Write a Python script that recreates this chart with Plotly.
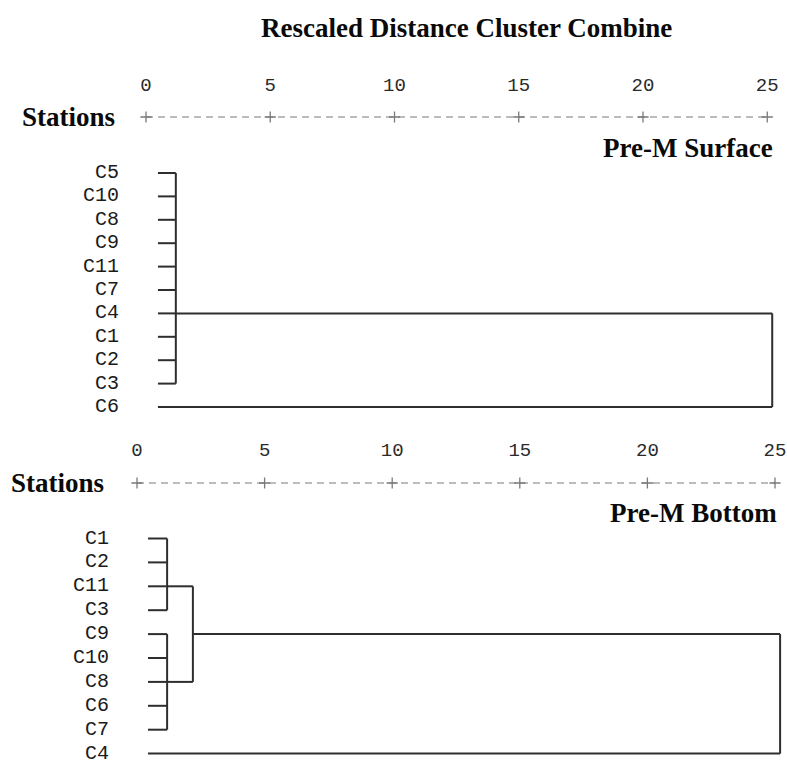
import plotly.graph_objects as go

# ---------------- data ----------------
tick_values = [0, 5, 10, 15, 20, 25]

top_leaves = ["C5", "C10", "C8", "C9", "C11", "C7", "C4", "C1", "C2", "C3", "C6"]
top_leaf_start = 0.48
# (name, children (leaf index or cluster name), rescaled distance, junction row)
top_clusters = [
    ("A", [0, 1, 2, 3, 4, 5, 6, 7, 8, 9], 1.2, 6),
    ("root", ["A", 10], 25.2, None),
]

bot_leaves = ["C1", "C2", "C11", "C3", "C9", "C10", "C8", "C6", "C7", "C4"]
bot_leaf_start = 0.43
bot_clusters = [
    ("A", [0, 1, 2, 3], 1.18, 2),
    ("B", [4, 5, 6, 7, 8], 1.18, 6),
    ("AB", ["A", "B"], 2.19, 4),
    ("root", ["AB", 9], 25.2, None),
]

LINE = "#2e2e2e"
AXC = "#7a7a7a"
MONO = "Liberation Mono"
SERIF = "Liberation Serif"


def dendro_xy(leaves, clusters, leaf_start):
    info = {}
    xs, ys = [], []
    for name, kids, h, jrow in clusters:
        rows = []
        for k in kids:
            if isinstance(k, str):
                r, x0 = info[k]
            else:
                r, x0 = k, leaf_start
            rows.append(r)
            xs += [x0, h, None]
            ys += [r, r, None]
        xs += [h, h, None]
        ys += [min(rows), max(rows), None]
        info[name] = (jrow, h)
    return xs, ys


fig = go.Figure()


def add_panel(leaves, clusters, leaf_start, xa, ya, axis_row, tick_row, label_x):
    xs, ys = dendro_xy(leaves, clusters, leaf_start)
    fig.add_trace(go.Scatter(x=xs, y=ys, mode="lines", xaxis=xa, yaxis=ya,
                             line=dict(color=LINE, width=2), hoverinfo="skip",
                             showlegend=False))
    # station labels
    fig.add_trace(go.Scatter(x=[label_x] * len(leaves), y=list(range(len(leaves))),
                             mode="text", text=leaves, textposition="middle left",
                             textfont=dict(family=MONO, size=20, color="#1a1a1a"),
                             xaxis=xa, yaxis=ya, hoverinfo="skip", showlegend=False))
    # dashed scale axis
    fig.add_trace(go.Scatter(x=[tick_values[0], tick_values[-1]], y=[axis_row, axis_row],
                             mode="lines", line=dict(color=AXC, width=1.2, dash="7px,5px"),
                             xaxis=xa, yaxis=ya, hoverinfo="skip", showlegend=False))
    fig.add_trace(go.Scatter(x=tick_values, y=[axis_row] * len(tick_values),
                             mode="markers",
                             marker=dict(symbol="cross-thin", size=8,
                                         line=dict(color=AXC, width=1.3)),
                             xaxis=xa, yaxis=ya, hoverinfo="skip", showlegend=False))
    fig.add_trace(go.Scatter(x=tick_values, y=[tick_row] * len(tick_values),
                             mode="text", text=[str(t) for t in tick_values],
                             textposition="middle center",
                             textfont=dict(family=MONO, size=19, color="#2a2a2a"),
                             xaxis=xa, yaxis=ya, hoverinfo="skip", showlegend=False))


W, H = 787, 763
# top panel: pixel x = 146 + 24.85*v ; pixel y = 173 + 23.4*r
tx0, tsx = 146.0, 24.85
ty0, tsy = 173.0, 23.4
split = 430.0
# bottom panel: pixel x = 137 + 25.52*v ; pixel y = 539 + 23.9*r
bx0, bsx = 137.0, 25.52
by0, bsy = 538.5, 23.9

add_panel(top_leaves, top_clusters, top_leaf_start, "x", "y",
          (117 - ty0) / tsy, (86 - ty0) / tsy, (119 - tx0) / tsx)
add_panel(bot_leaves, bot_clusters, bot_leaf_start, "x2", "y2",
          (483 - by0) / bsy, (451 - by0) / bsy, (109 - bx0) / bsx)

hidden = dict(visible=False, showgrid=False, zeroline=False, fixedrange=True)
fig.update_layout(
    width=W, height=H, margin=dict(l=0, r=0, t=0, b=0),
    paper_bgcolor="white", plot_bgcolor="white",
    xaxis=dict(domain=[0, 1], range=[-tx0 / tsx, (W - tx0) / tsx], anchor="y", **hidden),
    yaxis=dict(domain=[1 - split / H, 1], range=[(split - ty0) / tsy, (0 - ty0) / tsy],
               anchor="x", **hidden),
    xaxis2=dict(domain=[0, 1], range=[-bx0 / bsx, (W - bx0) / bsx], anchor="y2", **hidden),
    yaxis2=dict(domain=[0, 1 - split / H], range=[(H - by0) / bsy, (split - by0) / bsy],
                anchor="x2", **hidden),
)

bold27 = dict(family=SERIF, size=27, color="#0a0a0a")
fig.add_annotation(text="<b>Rescaled Distance Cluster Combine</b>", xref="paper", yref="paper",
                   x=467 / W, y=1 - 28 / H, xanchor="center", yanchor="middle",
                   showarrow=False, font=bold27)
fig.add_annotation(text="<b>Stations</b>", xref="x", yref="y",
                   x=(117 - tx0) / tsx, y=(117 - ty0) / tsy, xanchor="right", yanchor="middle",
                   showarrow=False, font=bold27)
fig.add_annotation(text="<b>Pre-M Surface</b>", xref="x", yref="y",
                   x=(775 - tx0) / tsx, y=(148 - ty0) / tsy, xanchor="right", yanchor="middle",
                   showarrow=False, font=bold27)
fig.add_annotation(text="<b>Stations</b>", xref="x2", yref="y2",
                   x=(106 - bx0) / bsx, y=(483 - by0) / bsy, xanchor="right", yanchor="middle",
                   showarrow=False, font=bold27)
fig.add_annotation(text="<b>Pre-M Bottom</b>", xref="x2", yref="y2",
                   x=(779 - bx0) / bsx, y=(513 - by0) / bsy, xanchor="right", yanchor="middle",
                   showarrow=False, font=bold27)

fig.write_html("out.html")
